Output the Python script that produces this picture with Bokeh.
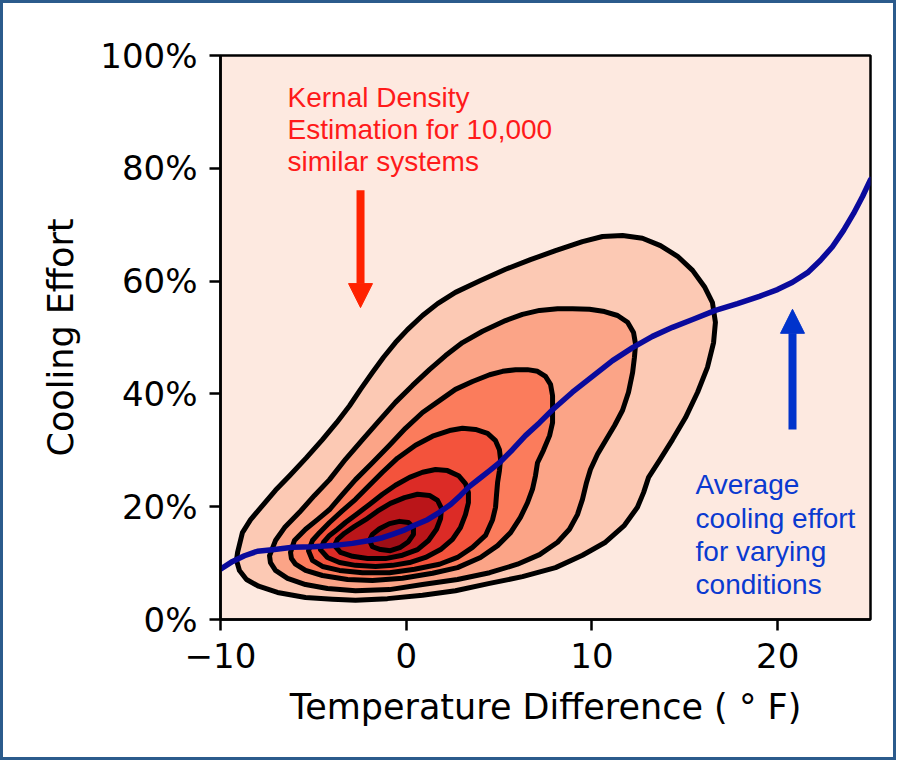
from bokeh.plotting import figure
from bokeh.models import Arrow, NormalHead, Label, FixedTicker
from bokeh.embed import file_html
from bokeh.resources import INLINE

# ---------------- data ----------------
x_ticks = [-10, 0, 10, 20]
x_tick_labels = ["\u221210", "0", "10", "20"]
y_ticks = [0, 20, 40, 60, 80, 100]
y_tick_labels = ["0%", "20%", "40%", "60%", "80%", "100%"]

# KDE contour outlines (temperature difference in F, cooling effort in %), outer -> inner
c1_x = [-9.08, -9.14, -8.98, -8.60, -7.95, -6.93, -5.42, -3.97, -2.73, -1.01, 0.88, 2.65, 4.49, 6.26, 8.04,
        9.49, 10.73, 11.75, 12.45, 12.78, 13.05, 13.64, 14.34, 15.04, 15.69, 16.22, 16.55, 16.65, 16.49,
        16.06, 15.42, 14.61, 13.69, 12.72, 11.65, 10.57, 9.49, 8.04, 6.69, 5.35, 4.00, 2.65, 1.69, 0.88,
        0.07, -0.58, -1.22, -1.82, -2.46, -3.05, -3.75, -4.51, -5.37, -6.28, -7.04, -7.74, -8.38, -8.82]
c1_y = [11.9, 10.5, 8.7, 7.1, 5.9, 4.8, 3.9, 3.6, 3.4, 3.7, 4.3, 5.1, 6.4, 7.6, 9.2,
        11.4, 13.7, 16.7, 19.9, 22.5, 25.2, 28.2, 31.9, 35.8, 40.3, 44.7, 49.1, 52.7, 56.2,
        59.0, 61.9, 64.4, 66.3, 67.6, 68.1, 67.9, 67.0, 65.4, 63.8, 62.1, 60.1, 58.0, 56.0, 53.9,
        51.4, 49.1, 46.5, 43.8, 40.8, 37.9, 34.9, 31.9, 28.7, 25.5, 22.9, 20.2, 17.7, 15.4]

c2_x = [-7.36, -7.04, -6.55, -5.75, -4.94, -4.13, -3.27, -2.35, -1.44, -0.58, 0.34, 1.25, 2.12, 3.03, 4.11,
        5.35, 6.26, 7.18, 8.15, 8.95, 9.87, 10.68, 11.38, 11.92, 12.24, 12.35, 12.29, 12.19, 11.97, 11.65,
        11.22, 10.73, 10.30, 9.92, 9.71, 9.49, 9.22, 8.79, 8.15, 7.18, 5.99, 4.49, 2.76, 0.88, -0.90,
        -2.73, -4.24, -5.42, -6.39, -7.04, -7.31]
c2_y = [11.3, 14.0, 16.3, 19.0, 22.0, 24.8, 28.4, 31.9, 35.3, 38.5, 41.5, 44.3, 46.8, 49.1, 51.1,
        53.0, 54.1, 54.8, 55.1, 55.1, 55.0, 54.6, 53.9, 52.7, 50.9, 48.8, 46.5, 43.8, 40.3, 37.1,
        34.4, 31.7, 29.3, 26.6, 24.3, 21.3, 18.6, 16.0, 13.7, 11.5, 9.8, 8.3, 7.1, 6.2, 5.3,
        5.1, 5.5, 6.2, 7.3, 8.7, 10.1]

c3_x = [-6.23, -6.02, -5.42, -4.78, -4.13, -3.43, -2.73, -1.82, -0.90, -0.04, 0.88, 1.79, 2.65, 3.57, 4.49,
        5.19, 5.89, 6.53, 7.07, 7.50, 7.77, 7.88, 7.88, 7.88, 7.72, 7.39, 7.07, 6.96, 6.80, 6.53,
        6.15, 5.62, 4.92, 4.00, 2.76, 1.42, -0.20, -1.82, -3.16, -4.51, -5.42, -5.96, -6.18]
c3_y = [11.9, 14.0, 16.0, 17.7, 19.5, 22.2, 24.8, 27.8, 30.9, 33.9, 36.7, 38.8, 40.8, 42.2, 43.4,
        44.0, 44.3, 44.3, 44.0, 43.1, 41.7, 39.7, 37.6, 34.9, 32.6, 30.0, 27.8, 25.5, 23.1, 20.7,
        18.1, 15.4, 13.1, 11.0, 9.2, 8.2, 7.3, 6.9, 7.1, 7.8, 8.7, 9.8, 10.8]

c4_x = [-5.26, -5.05, -4.67, -4.13, -3.43, -2.73, -1.98, -1.28, -0.47, 0.50, 1.42, 2.33, 3.03, 3.73, 4.38,
        4.81, 5.02, 5.08, 5.02, 4.92, 4.86, 4.81, 4.65, 4.27, 3.57, 2.76, 1.79, 0.45, -0.90, -2.35,
        -3.59, -4.51, -5.05]
c4_y = [12.2, 14.0, 15.4, 17.2, 19.3, 21.3, 23.8, 26.1, 28.6, 30.9, 32.5, 33.5, 33.9, 33.7, 33.0,
        31.7, 30.1, 28.4, 26.4, 24.3, 22.0, 19.9, 17.7, 14.9, 12.8, 11.0, 9.8, 8.9, 8.3, 8.3,
        8.7, 9.4, 10.5]

c5_x = [-4.62, -4.45, -4.13, -3.70, -3.27, -2.62, -1.98, -1.28, -0.58, 0.18, 0.88, 1.58, 2.22, 2.82, 3.19,
        3.35, 3.35, 3.19, 2.92, 2.49, 1.85, 1.04, 0.18, -0.74, -1.65, -2.73, -3.59, -4.24]
c5_y = [12.4, 13.7, 14.9, 16.0, 17.2, 18.8, 20.4, 22.2, 23.8, 25.2, 26.1, 26.6, 26.4, 25.5, 24.1,
        22.5, 20.7, 18.6, 16.3, 14.2, 12.4, 11.0, 10.1, 9.6, 9.4, 9.6, 10.1, 11.0]

c6_x = [-3.86, -3.70, -3.32, -2.78, -2.19, -1.55, -0.85, -0.09, 0.61, 1.25, 1.69, 1.90, 1.85, 1.63, 1.20,
        0.61, -0.20, -1.12, -2.08, -2.89, -3.54]
c6_y = [13.1, 14.2, 15.3, 16.5, 17.7, 19.2, 20.6, 21.6, 22.2, 22.0, 21.1, 19.7, 17.9, 16.0, 14.0,
        12.4, 11.4, 10.8, 10.8, 11.2, 11.9]

c7_x = [-1.98, -1.82, -1.38, -0.85, -0.31, 0.12, 0.39, 0.39, 0.12, -0.36, -0.90, -1.44, -1.82]
c7_y = [14.0, 12.9, 12.4, 12.2, 12.8, 13.8, 15.1, 16.3, 17.2, 17.4, 17.0, 16.1, 15.1]

# average cooling effort curve
avg_x = [-10.0, -9.35, -8.71, -8.01, -7.09, -6.12, -5.05, -3.97, -2.89, -1.98, -1.28, -0.74, -0.15, 0.45,
         1.15, 1.79, 2.39, 2.92, 3.41, 3.95, 4.49, 5.02, 5.72, 6.42, 7.18, 7.88, 8.95, 10.03, 11.11, 12.19,
         13.26, 14.34, 15.42, 16.65, 17.84, 19.02, 19.99, 20.80, 21.61, 22.31, 22.95, 23.55, 24.09, 24.57, 25.0]
avg_y = [8.9, 10.3, 11.3, 12.1, 12.4, 12.8, 12.9, 13.1, 13.5, 14.0, 14.5, 15.1, 15.8, 16.7,
         17.7, 19.0, 20.4, 22.0, 23.6, 25.0, 26.4, 27.8, 30.1, 32.6, 34.9, 37.2, 40.3, 43.1, 45.9, 48.2,
         50.2, 51.8, 53.2, 54.8, 56.0, 57.3, 58.5, 59.8, 61.5, 63.7, 66.1, 69.0, 72.0, 75.0, 78.0]

# annotations
red_text = ["Kernal Density", "Estimation for 10,000", "similar systems"]
red_text_x = -6.39
red_text_y = [92.6, 86.8, 81.2]
red_arrow_x = -2.46
red_arrow_y = (76.1, 55.3)

blue_text = ["Average", "cooling effort", "for varying", "conditions"]
blue_text_x = 15.58
blue_text_y = [23.9, 17.9, 12.1, 6.2]
blue_arrow_x = 20.80
blue_arrow_y = (33.7, 55.0)

# ---------------- styles ----------------
band_colors = ["#FCC9B4", "#FBA487", "#FB7C5C", "#F3533C", "#DC2B26", "#BA1519", "#9E0E16"]
bg_color = "#FDE9E0"
line_blue = "#0a0a9c"
red_col = "#FF1A1A"
blue_col = "#0A3AD0"

p = figure(width=896, height=760, x_range=(-10, 25), y_range=(0, 100),
           output_backend="svg", toolbar_location=None,
           min_border_left=217, min_border_right=29, min_border_top=52, min_border_bottom=144)
p.styles = {"border": "3px solid #2b5b8c"}
p.background_fill_color = bg_color
p.border_fill_color = "white"
p.outline_line_color = "black"
p.outline_line_width = 2.5
p.xgrid.visible = False
p.ygrid.visible = False

p.xaxis.ticker = FixedTicker(ticks=x_ticks)
p.xaxis.major_label_overrides = dict(zip(x_ticks, x_tick_labels))
p.yaxis.ticker = FixedTicker(ticks=y_ticks)
p.yaxis.major_label_overrides = dict(zip(y_ticks, y_tick_labels))
p.xaxis.axis_label = "Temperature Difference ( \u00b0 F)"
p.yaxis.axis_label = "Cooling Effort"

for ax in (p.xaxis[0], p.yaxis[0]):
    ax.major_label_text_font = "DejaVu Sans"
    ax.major_label_text_font_size = "34px"
    ax.major_label_text_color = "black"
    ax.axis_label_text_font = "DejaVu Sans"
    ax.axis_label_text_font_size = "35px"
    ax.axis_label_text_font_style = "normal"
    ax.axis_label_text_color = "black"
    ax.major_tick_out = 11
    ax.major_tick_in = 0
    ax.minor_tick_out = 0
    ax.minor_tick_in = 0
    ax.major_tick_line_width = 2.5
    ax.major_tick_line_color = "black"
    ax.axis_line_width = 2.5
    ax.axis_line_color = "black"
    ax.major_label_standoff = 12
    ax.axis_label_standoff = 16

contours = [(c1_x, c1_y), (c2_x, c2_y), (c3_x, c3_y), (c4_x, c4_y), (c5_x, c5_y), (c6_x, c6_y), (c7_x, c7_y)]
for (cx, cy), col in zip(contours, band_colors):
    p.patch(cx, cy, fill_color=col, line_color="black", line_width=5, line_join="round")

p.line(avg_x, avg_y, line_color=line_blue, line_width=5.5, line_join="round", line_cap="round")

for txt, ty in zip(red_text, red_text_y):
    p.add_layout(Label(x=red_text_x, y=ty, text=txt, text_font="Liberation Sans", text_font_size="28px",
                       text_color=red_col, text_baseline="middle", text_align="left"))
for txt, ty in zip(blue_text, blue_text_y):
    p.add_layout(Label(x=blue_text_x, y=ty, text=txt, text_font="Liberation Sans", text_font_size="28px",
                       text_color=blue_col, text_baseline="middle", text_align="left"))

p.add_layout(Arrow(end=NormalHead(size=24, fill_color="#FF2200", line_color="#FF2200", line_width=1),
                   x_start=red_arrow_x, y_start=red_arrow_y[0], x_end=red_arrow_x, y_end=red_arrow_y[1],
                   line_color="#FF2200", line_width=8))
p.add_layout(Arrow(end=NormalHead(size=24, fill_color="#0033CC", line_color="#0033CC", line_width=1),
                   x_start=blue_arrow_x, y_start=blue_arrow_y[0], x_end=blue_arrow_x, y_end=blue_arrow_y[1],
                   line_color="#0033CC", line_width=8))

open("out.html", "w").write(file_html(p, INLINE))
